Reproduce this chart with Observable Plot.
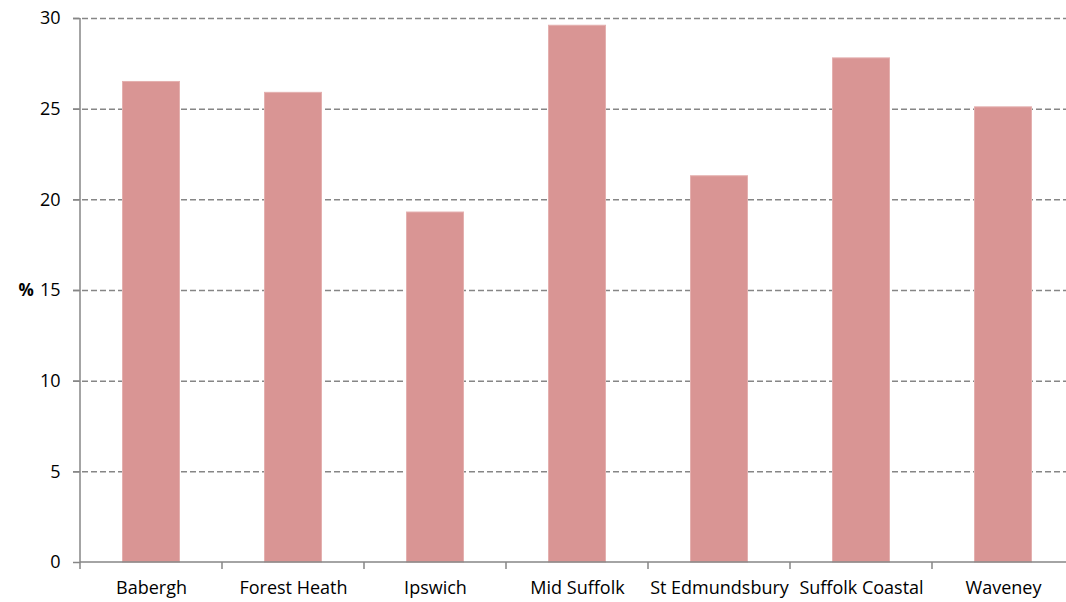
<!DOCTYPE html>
<html><head><meta charset="utf-8">
<script src="https://cdn.jsdelivr.net/npm/d3@7"></script>
<script src="https://cdn.jsdelivr.net/npm/@observablehq/plot@0.6"></script>
<style>
html,body{margin:0;padding:0;background:#fff;}
#chart{width:1066px;height:602px;overflow:hidden;}
</style></head>
<body><div id="chart"></div>
<script>
const categories = ["Babergh","Forest Heath","Ipswich","Mid Suffolk","St Edmundsbury","Suffolk Coastal","Waveney"];
const values = [26.5, 25.9, 19.3, 29.6, 21.3, 27.8, 25.1];
const yTicks = [0, 5, 10, 15, 20, 25, 30];
const yLabel = "%";

const data = categories.map((c, i) => ({category: c, value: values[i]}));

const W = 1066, H = 602, mL = 80, mR = -8, mT = 18, mB = 40;
const gray = "#868686";
const font = "'Open Sans', Lato, sans-serif";

const axisLines = (index, scales, values, dims) => {
  const g = d3.create("svg:g").attr("stroke", gray).attr("stroke-width", 1.5).attr("fill", "none");
  const y0 = scales.y(0), yTop = scales.y(30);
  g.append("line").attr("x1", dims.marginLeft).attr("x2", dims.marginLeft).attr("y1", yTop).attr("y2", y0);
  g.append("line").attr("x1", dims.marginLeft).attr("x2", dims.width - dims.marginRight).attr("y1", y0).attr("y2", y0);
  const step = scales.x.bandwidth ? scales.x.bandwidth() : 0;
  categories.forEach(c => {
    const x = scales.x(c);
    g.append("line").attr("x1", x).attr("x2", x).attr("y1", y0).attr("y2", y0 + 7);
  });
  const xe = scales.x(categories[categories.length - 1]) + step;
  g.append("line").attr("x1", xe).attr("x2", xe).attr("y1", y0).attr("y2", y0 + 7);
  return g.node();
};

const chart = Plot.plot({
  width: W, height: H,
  marginLeft: mL, marginRight: mR, marginTop: mT, marginBottom: mB,
  style: {fontFamily: font, fontSize: "18px", color: "#000", background: "#fff"},
  x: {domain: categories, padding: 0, label: null},
  y: {domain: [0, 30], label: null},
  marks: [
    Plot.ruleY(yTicks.filter(d => d > 0), {stroke: gray, strokeWidth: 1.5, strokeDasharray: "6,3", insetLeft: -7}),
    Plot.barY(data, {x: "category", y: "value", fill: "#D99594", stroke: "#E4B0AF", strokeWidth: 1, insetLeft: 42.5, insetRight: 42.5}),
    Plot.axisY({ticks: yTicks, tickSize: 7, tickPadding: 13, stroke: gray, strokeWidth: 1.5, label: null, fontSize: 18, tickFormat: d => String(d)}),
    Plot.axisX({tickSize: 0, tickPadding: 19, label: null, fontSize: 18}),
    Plot.text([yLabel], {frameAnchor: "left", dx: -62, fontWeight: "bold", fontSize: 17, fill: "#000"}),
    axisLines
  ]
});
document.getElementById("chart").append(chart);
</script>
</body></html>
